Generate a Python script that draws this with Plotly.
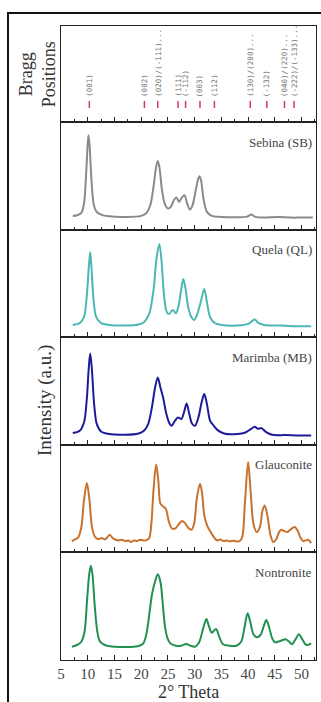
import plotly.graph_objects as go
from plotly.subplots import make_subplots

# ---- Bragg reflections (2 theta) and their Miller-index labels ----
bragg_pos = [10.3, 20.6, 23.1, 26.9, 28.3, 31.0, 33.7, 40.4, 43.5, 46.8, 48.6]
bragg_hkl = ["(001)", "(002)", "(020)/(-111)...", "(111)", "(-112)", "(003)",
             "(112)", "(130)/(200)...", "(-132)", "(040)/(220)...", "(-222)/(-133)..."]

# ---- Diffractograms (2 theta, intensity in a.u.) ----
sb_x = [7.2, 8.0, 8.8, 9.3, 9.7, 10.0, 10.15, 10.35, 10.7, 11.1, 11.6, 12.5, 14, 17, 20, 21,
        21.7, 22.3, 22.8, 23.1, 23.4, 23.9, 24.4, 25.0, 25.6, 26.1, 26.6, 27.1, 27.6, 28.1,
        28.6, 29.1, 29.6, 30.2, 30.6, 30.9, 31.2, 31.7, 32.3, 33.2, 35, 38, 39.8, 40.6, 41.4,
        43, 45.6, 48, 50, 52.1]
sb_y = [13.7, 14.3, 16.7, 26, 56, 86, 94.3, 84.3, 49.3, 26, 18.3, 15, 13.3, 12.7, 13.7, 16.7,
        24.3, 42.7, 62.7, 68.7, 62.7, 39.3, 26, 21, 23.3, 29.3, 32, 27.7, 32, 34.3,
        26, 20, 24.3, 39.3, 49.3, 53.3, 49.3, 29.3, 17.7, 13.7, 12.7, 12.3, 13, 15, 12.7,
        12, 12.7, 12, 12, 12]

ql_x = [7.2, 8.5, 9.3, 9.8, 10.2, 10.46, 10.7, 11.1, 11.6, 12.5, 14, 17, 19.5, 20.5, 21.0,
        21.6, 22.3, 22.9, 23.4, 23.8, 24.3, 24.8, 25.2, 25.9, 26.5, 27.0, 27.5, 27.88, 28.3,
        28.8, 29.4, 29.9, 30.5, 31.2, 31.8, 32.3, 32.9, 33.8, 35, 38, 40.0, 40.7, 41.25, 41.9,
        43, 46, 49, 51.8]
ql_y = [12.3, 14, 20, 40, 70, 85, 70, 36.7, 20, 14, 12.3, 11.7, 12.7, 15, 18.3,
        25, 46.7, 80, 93.3, 76.7, 40, 25, 23.3, 27.3, 24, 31.7, 48.3, 58.3, 48.3,
        30, 20, 17.3, 23.3, 36.7, 48.3, 35, 20, 14, 12.3, 11.7, 13.3, 16, 17.7, 14.3,
        12.3, 11.7, 11, 11]

mb_x = [7.2, 8.5, 9.3, 9.8, 10.2, 10.46, 10.75, 11.2, 11.7, 12.5, 14, 17, 19.5, 20.5, 21.3,
        22.0, 22.6, 23.1, 23.6, 24.1, 24.7, 25.3, 25.7, 26.3, 26.9, 27.5, 28.0, 28.5, 29.0,
        29.5, 30.05, 30.7, 31.3, 31.8, 32.3, 32.9, 33.6, 34.3, 35.5, 38, 39.5, 40.5, 41.25,
        41.8, 42.5, 43.3, 44.5, 47, 50, 51.8]
mb_y = [11.7, 14, 22.3, 44, 77.3, 91.3, 77.3, 40.7, 20.7, 13.3, 10.7, 10, 11.3, 14, 20.7,
        37.3, 57.3, 67.3, 57.3, 47.3, 31, 21.3, 19, 24, 27.3, 25.7, 32.3, 41.3, 30.7,
        21.3, 19, 27.3, 42.3, 50.7, 40.7, 24, 19, 14.7, 11.3, 10.7, 12.3, 15.7, 18,
        16, 16.7, 13, 10, 9.7, 9.3, 9.3]

gl_x = [7.05, 7.5, 8.2, 8.8, 9.3, 9.84, 10.3, 10.8, 11.4, 12.0, 12.6, 13.2, 13.7, 14.1, 14.6,
        15.2, 15.8, 16.4, 17.0, 17.6, 18.1, 18.6, 19.2, 19.8, 20.4, 21.0, 21.5, 21.9, 22.3,
        22.8, 23.2, 23.6, 24.1, 24.6, 25.2, 25.8, 26.4, 27.0, 27.6, 28.2, 28.8, 29.4, 29.9,
        30.4, 31.0, 31.4, 31.8, 32.4, 33.0, 33.6, 34.2, 34.8, 35.4, 36.0, 36.6, 37.2, 37.8,
        38.4, 38.9, 39.4, 40.0, 40.5, 41.0, 41.6, 42.2, 42.7, 43.1, 43.6, 44.2, 44.7, 45.3,
        45.8, 46.2, 46.8, 47.3, 47.9, 48.7, 49.3, 49.8, 50.3, 50.8, 51.2, 51.8]
gl_y = [11, 12.7, 14.7, 25.3, 52, 69.3, 53.7, 25.3, 15.3, 13.3, 14.3, 13, 15.3, 17.7, 14.7,
        12.7, 12, 12.7, 11.3, 12, 10.3, 12, 11.3, 12.7, 12, 12.3, 14.3, 28.7, 62,
        88, 72, 48.7, 46, 43.7, 30.3, 23.7, 24, 28, 31.3, 29.3, 24.7, 22.7, 28.7,
        53.7, 68.7, 58.7, 37, 26, 20.3, 15.3, 12, 13, 11.3, 12, 11, 11.7, 11,
        11.3, 15.3, 49.3, 90.3, 58.7, 28.7, 20.3, 25.3, 42, 47, 37, 17, 10.3, 13.7,
        20.3, 22.7, 21.3, 20.3, 22.7, 25.3, 21.3, 14.7, 11.3, 12, 12.7, 9.3]

nt_x = [7.04, 8.0, 8.8, 9.4, 9.9, 10.3, 10.59, 10.9, 11.3, 11.8, 12.3, 13.2, 14.2, 16, 18,
        19.5, 20.4, 21.0, 21.5, 22.0, 22.5, 23.1, 23.6, 24.0, 24.5, 25.0, 25.6, 26.5, 27.5,
        28.4, 29.2, 30.05, 30.8, 31.6, 32.2, 32.7, 33.2, 34.0, 34.6, 35.3, 36.5, 37.8, 38.7,
        39.3, 39.9, 40.4, 41.0, 41.6, 42.3, 42.9, 43.4, 43.9, 44.5, 45.0, 46.0, 47.0, 47.7,
        48.2, 48.9, 49.5, 50.1, 50.9, 51.8]
nt_y = [13.3, 15, 18.3, 28.3, 61.7, 86.7, 94.3, 85, 55, 28.3, 18.3, 15, 13.7, 13, 13,
        14, 16.7, 26.7, 45, 65, 76.7, 85.7, 78.3, 58.3, 31.7, 20.7, 16, 14.3, 14.3,
        16, 14.3, 13.3, 17.3, 31.7, 41, 33.3, 27.3, 31, 23.3, 15.7, 14.3, 14.3, 18.3,
        31.7, 46.7, 38.3, 25.7, 22.7, 25, 33.3, 40, 33.3, 21.7, 17.7, 19, 20.7, 18.3,
        15.7, 21, 25.7, 21, 15, 16.7]

samples = [
    ("Sebina (SB)", sb_x, sb_y, "#8a8a8a"),
    ("Quela (QL)", ql_x, ql_y, "#4db8b2"),
    ("Marimba (MB)", mb_x, mb_y, "#1c1c9a"),
    ("Glauconite", gl_x, gl_y, "#c8722e"),
    ("Nontronite", nt_x, nt_y, "#219050"),
]

SERIF = "Liberation Serif"
BRAGG_H = 96.0
PANEL_H = 107.6
Y_MAX = 107.6

fig = make_subplots(rows=6, cols=1, shared_xaxes=True, vertical_spacing=0,
                    row_heights=[BRAGG_H] + [PANEL_H] * 5)

# Bragg tick marks
bx, by = [], []
for p in bragg_pos:
    bx += [p, p, None]
    by += [14, 21, None]
fig.add_trace(go.Scatter(x=bx, y=by, mode="lines",
                         line=dict(color="#d6336c", width=1.5),
                         hoverinfo="skip", showlegend=False), row=1, col=1)
for p, lab in zip(bragg_pos, bragg_hkl):
    fig.add_annotation(x=p, y=23, xref="x", yref="y", text=lab, showarrow=False,
                       textangle=-90, yanchor="bottom", xanchor="center",
                       font=dict(family="DejaVu Sans Mono", size=7.5, color="#707070"))

for i, (name, xs, ys, col) in enumerate(samples, start=2):
    fig.add_trace(go.Scatter(x=xs, y=ys, mode="lines", name=name,
                             line=dict(color=col, width=2, shape="spline", smoothing=0.9),
                             showlegend=False), row=i, col=1)
    fig.add_annotation(x=52.4, y=Y_MAX - 20, xref=f"x{i}", yref=f"y{i}", text=name,
                       showarrow=False, xanchor="right", yanchor="middle",
                       font=dict(family=SERIF, size=13, color="#444444"))

for r in range(1, 7):
    fig.update_xaxes(range=[5, 52.7], tick0=5, dtick=5, ticks="inside", ticklen=5,
                     tickwidth=1, tickcolor="#222",
                     minor=dict(dtick=2.5, ticks="inside", ticklen=3, tickcolor="#222"),
                     showline=True, linecolor="#222", linewidth=1, mirror=True,
                     showgrid=False, zeroline=False, showticklabels=(r == 6),
                     row=r, col=1)
    fig.update_yaxes(range=[0, BRAGG_H if r == 1 else Y_MAX], showticklabels=False,
                     ticks="", showline=True, linecolor="#222", linewidth=1, mirror=True,
                     showgrid=False, zeroline=False, row=r, col=1)

fig.update_xaxes(tickfont=dict(family=SERIF, size=15, color="#444"), row=6, col=1)

# axis titles
fig.add_annotation(x=0.5, y=-0.051, xref="paper", yref="paper", text="2° Theta",
                   showarrow=False, xanchor="center", yanchor="middle",
                   font=dict(family=SERIF, size=18, color="#333"))
fig.add_annotation(x=-0.063, y=0.41, xref="paper", yref="paper", text="Intensity (a.u.)",
                   showarrow=False, textangle=-90, xanchor="center", yanchor="middle",
                   font=dict(family=SERIF, size=19, color="#333"))
fig.add_annotation(x=-0.094, y=0.924, xref="paper", yref="paper",
                   text="Bragg<br>Positions", align="center",
                   showarrow=False, textangle=-90, xanchor="center", yanchor="middle",
                   font=dict(family=SERIF, size=18, color="#333"))

# outer frame (left and top edges visible)
fig.add_shape(type="path", xref="paper", yref="paper",
              path="M -0.2078,-0.2 L -0.2078,1.0205 L 1.2,1.0205",
              line=dict(color="#111", width=2))

fig.update_layout(width=321, height=702, margin=dict(l=61, r=5, t=26, b=42),
                  paper_bgcolor="white", plot_bgcolor="white")

fig.write_html("out.html")
